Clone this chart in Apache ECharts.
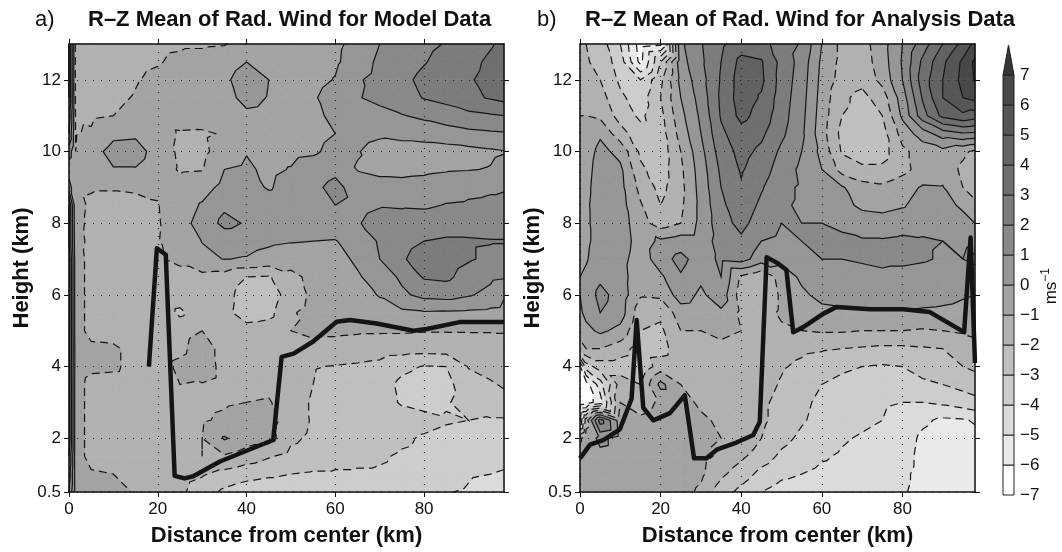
<!DOCTYPE html>
<html>
<head>
<meta charset="utf-8">
<script src="https://cdn.jsdelivr.net/npm/echarts@6/dist/echarts.min.js"></script>
<style>
html, body { margin: 0; padding: 0; background: #fff; }
#chart { width: 1062px; height: 552px; }
</style>
</head>
<body>
<div id="chart"></div>
<script>
// grid of the R-Z section: distance columns, height rows (top row first)
var distKm = [0, 1.5, 5, 10, 15, 20, 25, 30, 35, 40, 45, 50, 55, 60, 65, 70, 75, 80, 85, 90, 95, 98];
var heightKm = [13, 12.5, 12, 11.5, 11, 10.5, 10, 9.5, 9, 8.5, 8, 7.5, 7, 6.5, 6, 5.5, 5, 4.5, 4, 3.5, 3, 2.5, 2, 1.5, 1, 0.5];

// radial wind (m/s), model data
var windModel = [
  [3, -1.2, -1.4, -1.5, -1.2, -1.15, -1.1, -1.1, -1.05, -0.8, -0.5, -0.5, -0.4, -0.2, 0.3, 1.0, 1.5, 1.8, 2.05, 2.4, 2.9, 3.3],
  [3, -1.2, -1.4, -1.4, -1.15, -1.05, -0.85, -0.7, -0.5, 0.0, -0.2, -0.5, -0.4, -0.15, 0.5, 1.2, 1.6, 1.95, 2.3, 2.7, 3.2, 3.5],
  [3, -1.2, -1.4, -1.3, -1.05, -0.85, -0.7, -0.5, -0.2, 0.5, 0.0, -0.5, -0.3, 0.05, 0.9, 1.3, 1.8, 2.2, 2.5, 2.9, 3.3, 3.5],
  [3, -1.2, -1.3, -1.15, -0.95, -0.7, -0.55, -0.45, -0.35, 0.3, -0.05, -0.4, -0.1, 0.4, 0.95, 1.2, 1.6, 2.05, 2.3, 2.75, 3.1, 3.3],
  [2.5, -1.1, -1.15, -1.0, -0.8, -0.6, -0.5, -0.45, -0.4, -0.2, -0.3, -0.4, -0.2, 0.2, 0.5, 0.75, 0.95, 1.2, 1.5, 1.75, 1.9, 2.0],
  [2, -1.05, -0.9, -0.2, -0.15, -0.5, -1.1, -1.15, -0.9, -0.4, -0.45, -0.5, -0.3, 0.0, 0.35, 0.15, 0.3, 0.4, 0.55, 0.75, 0.85, 0.9],
  [0.5, -1.0, -0.35, 0.3, 0.35, -0.35, -1.2, -1.25, -0.5, -0.05, -0.3, -0.25, -0.15, 0.3, 0.05, -0.35, -0.45, -0.45, -0.4, -0.3, -0.15, -0.05],
  [-0.6, -1.0, -0.8, -0.05, -0.05, -0.5, -1.1, -1.05, 0.0, 0.15, -0.2, 0.05, 0.5, 0.8, -0.05, -0.2, -0.25, -0.2, -0.1, -0.05, 0.05, 0.3],
  [0.5, -0.9, -0.95, -0.95, -0.9, -0.85, -0.7, -0.4, 0.3, 0.4, -0.1, 0.4, 0.8, 1.25, 0.6, 0.3, 0.3, 0.4, 0.6, 0.8, 0.9, 0.95],
  [3, -0.8, -1.1, -1.2, -1.2, -1.05, -0.5, 0.1, 0.8, 0.7, 0.5, 0.6, 0.7, 1.0, 0.8, 0.95, 0.9, 0.85, 1.05, 1.1, 1.15, 1.15],
  [3, -0.8, -1.15, -1.3, -1.3, -1.1, -0.3, 0.3, 1.3, 0.9, 0.5, 0.5, 0.55, 0.6, 0.95, 1.25, 1.4, 1.55, 1.65, 1.6, 1.55, 1.5],
  [3, -0.7, -1.2, -1.35, -1.3, -1.05, -0.4, 0.02, 0.3, 0.3, 0.15, 0.05, 0.0, -0.05, 0.45, 1.1, 1.7, 2.0, 2.1, 2.1, 2.05, 2.05],
  [3.5, -0.6, -1.3, -1.35, -1.25, -1.1, -0.8, -0.15, 0.02, -0.05, -0.3, -0.5, -0.45, -0.3, 0.15, 1.0, 1.9, 2.4, 2.45, 2.1, 1.8, 1.7],
  [3.5, -0.6, -1.3, -1.4, -1.3, -1.2, -1.3, -1.3, -1.4, -2.0, -2.1, -1.3, -0.7, -0.4, -0.1, 0.4, 1.2, 2.1, 2.2, 1.6, 1.2, 1.1],
  [3.5, -0.6, -1.3, -1.4, -1.4, -1.3, -1.5, -1.4, -1.6, -2.5, -2.6, -1.5, -0.8, -0.5, -0.3, 0.05, 0.8, 1.3, 1.4, 1.1, 0.7, 0.1],
  [3.5, -0.6, -1.3, -1.4, -1.4, -1.35, -2.2, -1.4, -1.7, -2.5, -2.3, -1.1, -0.7, -0.5, -0.45, -0.3, -0.2, -0.1, -0.15, -0.2, -0.25, -0.3],
  [3.5, -0.6, -1.3, -1.4, -1.4, -1.3, -1.3, -1.0, -1.3, -1.6, -1.5, -1.0, -0.85, -0.85, -0.9, -0.9, -0.9, -0.95, -0.95, -0.95, -0.95, -0.95],
  [3.5, -0.5, -0.8, -0.85, -1.3, -1.4, -1.2, -0.6, -1.3, -1.6, -1.5, -1.1, -1.2, -1.3, -1.4, -1.5, -1.55, -1.6, -1.55, -1.5, -1.4, -1.3],
  [3.5, -0.5, -0.8, -0.85, -1.3, -1.4, -0.8, -0.5, -1.3, -1.5, -1.4, -1.6, -1.95, -2.05, -2.15, -2.3, -2.8, -3.05, -3.0, -1.95, -1.7, -1.5],
  [3.5, -0.6, -1.3, -1.35, -1.4, -1.4, -1.0, -1.05, -1.3, -1.4, -1.3, -1.5, -2.0, -2.3, -2.4, -2.6, -3.2, -3.4, -3.3, -2.4, -2.1, -1.9],
  [3.5, -0.6, -1.3, -1.4, -1.4, -1.4, -1.3, -1.2, -1.1, -1.0, -0.9, -1.6, -2.1, -2.4, -2.5, -2.6, -3.1, -3.3, -3.1, -2.6, -2.4, -2.3],
  [3.5, -0.6, -1.3, -1.4, -1.4, -1.4, -1.4, -1.1, -0.85, -0.6, -0.6, -1.5, -2.1, -2.3, -2.4, -2.5, -2.6, -2.7, -2.9, -3.0, -3.1, -3.1],
  [3.5, -0.6, -1.3, -1.4, -1.4, -1.4, -1.3, -1.0, 0.1, -0.5, -0.6, -1.8, -2.2, -2.4, -2.5, -2.6, -2.85, -3.1, -3.3, -3.4, -3.5, -3.5],
  [3.0, -0.6, -1.3, -1.4, -1.4, -1.4, -1.5, -1.0, -1.1, -1.5, -1.9, -2.3, -2.5, -2.7, -2.8, -2.9, -3.1, -3.2, -3.3, -3.5, -3.6, -3.7],
  [2.5, -0.5, -0.9, -1.0, -1.2, -1.4, -1.6, -1.9, -2.3, -2.6, -2.8, -3.0, -3.1, -3.1, -3.1, -3.1, -3.2, -3.4, -3.6, -3.9, -4.0, -4.1],
  [2, -0.4, -0.5, -0.8, -1.05, -1.3, -1.8, -2.5, -3.2, -3.6, -3.8, -3.8, -3.7, -3.6, -3.5, -3.5, -3.6, -3.8, -3.95, -4.1, -4.4, -4.6]
];

// radial wind (m/s), analysis data
var windAnalysis = [
  [-2.0, -2.0, -2.5, -4.0, -6.5, -6.2, 0.8, 1.9, 2.8, 3.5, 3.4, 2.5, 1.9, 0.0, -1.3, -1.4, -0.4, 1.0, 2.5, 4.0, 5.3, 6.3],
  [-1.8, -1.9, -2.3, -3.5, -6.3, -3.0, 0.6, 1.8, 3.0, 4.3, 4.1, 2.7, 1.6, -0.2, -1.3, -1.5, -0.5, 1.1, 3.2, 4.8, 6.2, 7.2],
  [-1.5, -1.6, -2.0, -3.2, -4.0, -2.2, 0.3, 1.6, 3.1, 4.5, 4.2, 2.6, 1.5, -0.3, -1.4, -1.7, -0.7, 1.0, 3.5, 5.0, 6.3, 7.1],
  [-1.2, -1.3, -1.6, -2.8, -3.5, -2.0, 0.0, 1.4, 3.2, 4.5, 3.9, 2.5, 1.4, -0.4, -1.8, -2.3, -1.5, 0.5, 3.1, 5.0, 6.0, 6.3],
  [-1.0, -1.0, -1.2, -2.4, -3.2, -2.3, -0.3, 1.2, 3.1, 4.3, 3.6, 2.4, 1.3, -0.5, -2.0, -2.3, -2.0, 0.2, 2.6, 4.3, 4.8, 4.5],
  [-0.8, -0.8, -0.15, -1.6, -2.6, -2.5, -0.6, 1.0, 2.8, 3.6, 3.2, 2.2, 1.2, -0.6, -2.3, -2.6, -2.4, -0.6, 0.5, 1.5, 1.9, 1.8],
  [-0.6, -0.5, 0.3, -0.3, -2.2, -2.6, -1.0, 0.7, 2.5, 3.3, 2.8, 1.8, 1.0, -0.3, -2.1, -2.5, -2.4, -1.2, -0.6, -0.3, -0.8, -1.2],
  [-0.5, -0.4, 0.5, 0.2, -1.8, -2.5, -1.2, 0.5, 2.2, 3.1, 2.5, 1.5, 0.8, 0.0, -1.4, -1.8, -1.8, -1.3, -0.6, -0.4, -1.2, -1.6],
  [-0.5, -0.3, 0.6, 0.3, -1.3, -2.3, -1.3, 0.4, 2.0, 2.9, 2.1, 1.2, 0.9, 0.5, 0.1, -0.6, -0.8, -0.4, 0.1, 0.05, -1.0, -1.4],
  [-0.4, -0.2, 0.6, 0.4, -0.9, -2.0, -1.2, 0.3, 1.8, 2.6, 1.8, 1.1, 0.9, 0.7, 0.3, -0.2, -0.3, -0.1, 0.4, 0.4, -0.2, -0.8],
  [-0.4, -0.2, 0.5, 0.5, -0.6, -1.5, -1.0, 0.3, 1.6, 2.3, 1.5, 1.0, 1.0, 1.0, 0.8, 0.5, 0.4, 0.6, 0.7, 0.7, 0.4, 0.0],
  [-0.3, -0.2, 0.4, 0.6, -0.5, 0.2, 0.5, 0.5, 1.4, 1.8, 1.0, 0.8, 1.0, 1.2, 1.2, 1.1, 1.1, 1.2, 1.1, 1.0, 0.9, 0.3],
  [-0.3, -0.1, 0.6, 0.4, -0.6, 0.6, 1.3, 0.5, 1.2, 1.4, 0.5, 0.3, 0.7, 1.0, 1.0, 1.1, 1.2, 1.2, 1.1, 0.9, 1.0, 1.2],
  [0.0, 0.2, 0.8, 0.5, -0.8, -0.2, 0.9, 0.2, 1.0, -1.2, -1.8, -0.6, 0.2, 0.5, 0.6, 0.7, 0.8, 0.7, 0.6, 0.5, 0.4, 0.6],
  [0.0, 0.4, 1.3, 0.6, -0.9, -0.8, 0.5, -0.2, 0.6, -1.5, -2.0, -0.8, -0.2, 0.3, 0.4, 0.4, 0.5, 0.5, 0.4, 0.3, 0.1, 0.0],
  [-0.2, 0.3, 1.0, 0.5, -1.6, -1.8, -0.5, -0.6, -0.2, -1.2, -1.5, -0.8, -0.6, -0.3, -0.2, -0.15, -0.15, -0.15, -0.15, -0.2, -0.3, -0.4],
  [-0.5, -0.3, 0.2, -0.3, -2.0, -2.2, -1.0, -1.0, -0.9, -1.0, -1.2, -1.2, -1.0, -0.9, -0.9, -1.0, -1.0, -1.0, -1.1, -1.0, -0.9, -0.8],
  [-1.5, -1.0, -1.0, -1.5, -2.5, -2.4, -1.4, -1.2, -1.1, -1.2, -1.4, -1.6, -1.8, -1.9, -2.0, -2.1, -2.2, -2.2, -2.1, -2.0, -1.5, -1.3],
  [-6.2, -3.5, -2.5, -2.5, -2.8, -1.5, -1.3, -1.2, -1.1, -1.3, -1.5, -1.9, -2.2, -2.5, -2.8, -3.0, -3.1, -3.0, -2.6, -2.4, -2.0, -1.8],
  [-6.6, -6.5, -4.5, -1.5, -2.0, 0.3, -1.0, -1.2, -1.2, -1.4, -1.6, -2.1, -2.6, -3.0, -3.3, -3.5, -3.6, -3.5, -3.2, -3.0, -2.7, -2.5],
  [-6.6, -6.5, -5.5, -1.0, -1.5, -0.8, -0.8, -1.1, -1.3, -1.5, -1.8, -2.3, -2.8, -3.2, -3.5, -3.7, -3.9, -4.0, -4.0, -3.8, -3.5, -3.3],
  [-5.0, -1.5, 2.5, -0.5, -0.8, -0.5, -0.6, -0.9, -1.1, -1.2, -1.8, -2.4, -2.9, -3.3, -3.6, -3.8, -4.0, -4.3, -4.8, -5.2, -5.1, -4.9],
  [-1.2, -0.5, 0.2, -0.3, -0.5, -0.4, -0.5, -0.8, -1.0, -1.2, -2.0, -2.7, -3.2, -3.6, -3.9, -4.1, -4.3, -4.5, -5.2, -5.5, -5.5, -5.3],
  [-0.3, -0.2, -0.2, -0.3, -0.4, -0.4, -0.4, -0.7, -1.2, -1.8, -2.5, -3.2, -3.6, -3.9, -4.1, -4.3, -4.4, -4.6, -5.3, -5.6, -5.6, -5.5],
  [-0.2, -0.2, -0.2, -0.2, -0.3, -0.3, -0.4, -0.8, -1.8, -2.5, -3.3, -3.8, -4.0, -4.2, -4.3, -4.4, -4.5, -4.8, -5.3, -5.6, -5.7, -5.7],
  [-0.2, -0.2, -0.2, -0.2, -0.3, -0.4, -0.6, -1.2, -2.5, -3.3, -4.0, -4.4, -4.5, -4.6, -4.6, -4.5, -4.6, -4.9, -5.3, -5.6, -5.8, -5.9]
];

// thick black line [distance km, height km]
var thickModel = [[18, 4.0], [19.8, 7.3], [21.8, 7.12], [23.8, 0.95], [26, 0.88], [28, 0.94], [34, 1.35], [46, 1.95], [47.9, 4.27], [50.6, 4.36], [55, 4.7], [60.3, 5.25], [63.3, 5.3], [69.3, 5.2], [77.6, 5.0], [80.6, 5.05], [88, 5.24], [98, 5.24]];
var thickAnalysis = [[0, 1.44], [2.5, 1.82], [5.8, 1.95], [9.9, 2.25], [12.8, 3.1], [14.05, 5.3], [15.7, 2.85], [18.2, 2.5], [22.3, 2.7], [26, 3.2], [28.3, 1.44], [31.4, 1.44], [33.9, 1.68], [38.8, 1.88], [43, 2.09], [44.6, 2.46], [46.3, 7.05], [48.8, 6.9], [51.2, 6.7], [52.9, 4.96], [55.4, 5.1], [60.3, 5.47], [63.6, 5.66], [72, 5.6], [80.2, 5.6], [86.8, 5.52], [95.3, 4.96], [96.9, 7.6], [98, 4.1]];

var levels = [-6, -5, -4, -3, -2, -1, 0, 1, 2, 3, 4, 5, 6, 7];
var bandColors = ['#ffffff', '#eaeaea', '#dbdbdb', '#cdcdcd', '#bfbfbf', '#b1b1b1', '#a3a3a3', '#969696', '#898989', '#7c7c7c', '#6f6f6f', '#626262', '#555555', '#484848', '#363636'];
var barLow = [-7, -6, -5, -4, -3, -2, -1, 0, 1, 2, 3, 4, 5, 6];
var barTicks = [-7, -6, -5, -4, -3, -2, -1, 0, 1, 2, 3, 4, 5, 6, 7];
var distTicks = [0, 20, 40, 60, 80];
var heightTicks = [0.5, 2, 4, 6, 8, 10, 12];

var narrow = "'Liberation Sans Narrow', 'Liberation Sans', Arial, sans-serif";

// --- contouring helpers (linear on triangles) ---
function vtx(vals, r, c) { return [distKm[c], heightKm[r], vals[r][c], r * distKm.length + c]; }

function triangles(vals) {
  var tris = [];
  for (var r = 0; r < heightKm.length - 1; r++) {
    for (var c = 0; c < distKm.length - 1; c++) {
      var a = vtx(vals, r, c), b = vtx(vals, r, c + 1), d = vtx(vals, r + 1, c + 1), e = vtx(vals, r + 1, c);
      tris.push([a, b, d], [a, d, e]);
    }
  }
  return tris;
}

function clip(poly, t, keepAbove) {
  var out = [];
  for (var i = 0; i < poly.length; i++) {
    var p = poly[i], q = poly[(i + 1) % poly.length];
    var pin = keepAbove ? p[2] >= t : p[2] < t;
    var qin = keepAbove ? q[2] >= t : q[2] < t;
    if (pin) out.push(p);
    if (pin !== qin) {
      var f = (t - p[2]) / (q[2] - p[2]);
      out.push([p[0] + f * (q[0] - p[0]), p[1] + f * (q[1] - p[1]), t]);
    }
  }
  return out;
}

function filledBands(tris) {
  var out = [];
  tris.forEach(function (t) {
    var vmin = Math.min(t[0][2], t[1][2], t[2][2]);
    var vmax = Math.max(t[0][2], t[1][2], t[2][2]);
    for (var k = 0; k <= levels.length; k++) {
      var lo = k === 0 ? -Infinity : levels[k - 1];
      var hi = k === levels.length ? Infinity : levels[k];
      if (vmax < lo || vmin >= hi) continue;
      var poly = t;
      if (lo > -Infinity) poly = clip(poly, lo, true);
      if (poly.length && hi < Infinity) poly = clip(poly, hi, false);
      if (poly.length >= 3) out.push({ band: k, pts: poly });
    }
  });
  return out;
}

function chain(segs) {
  var byKey = {}, used = [], lines = [];
  segs.forEach(function (s, i) {
    [0, 1].forEach(function (e) { (byKey[s[e].k] = byKey[s[e].k] || []).push(i); });
  });
  function grow(pts, key, atEnd) {
    for (;;) {
      var next = (byKey[key] || []).filter(function (j) { return !used[j]; })[0];
      if (next === undefined) return;
      used[next] = true;
      var s = segs[next], o = s[0].k === key ? s[1] : s[0];
      if (atEnd) pts.push(o.pt); else pts.unshift(o.pt);
      key = o.k;
    }
  }
  segs.forEach(function (s, i) {
    if (used[i]) return;
    used[i] = true;
    var pts = [s[0].pt, s[1].pt];
    grow(pts, s[1].k, true);
    grow(pts, s[0].k, false);
    lines.push(pts);
  });
  return lines;
}

function contourLines(tris) {
  var out = [];
  levels.forEach(function (lv) {
    var segs = [];
    tris.forEach(function (t) {
      var cross = [];
      for (var i = 0; i < 3; i++) {
        var p = t[i], q = t[(i + 1) % 3];
        if ((p[2] >= lv) !== (q[2] >= lv)) {
          if (p[3] > q[3]) { var s = p; p = q; q = s; }
          var f = (lv - p[2]) / (q[2] - p[2]);
          cross.push({ k: p[3] + '_' + q[3], pt: [p[0] + f * (q[0] - p[0]), p[1] + f * (q[1] - p[1])] });
        }
      }
      if (cross.length === 2) segs.push(cross);
    });
    chain(segs).forEach(function (pts) { out.push({ level: lv, pts: pts }); });
  });
  return out;
}

function bandSeries(polys, gi) {
  return {
    type: 'custom', xAxisIndex: gi * 2, yAxisIndex: gi * 2, silent: true, z: 1,
    data: polys.map(function (p, i) { return [p.pts[0][0], p.pts[0][1], i]; }),
    encode: { x: 0, y: 1 },
    renderItem: function (params, api) {
      var p = polys[api.value(2)], col = bandColors[p.band];
      return {
        type: 'polygon',
        shape: { points: p.pts.map(function (q) { return api.coord([q[0], q[1]]); }) },
        style: { fill: col, stroke: col, lineWidth: 0.8 }
      };
    }
  };
}

function lineSeries(lines, gi) {
  return {
    type: 'custom', xAxisIndex: gi * 2, yAxisIndex: gi * 2, silent: true, z: 2,
    data: lines.map(function (l, i) { return [l.pts[0][0], l.pts[0][1], i]; }),
    encode: { x: 0, y: 1 },
    renderItem: function (params, api) {
      var l = lines[api.value(2)];
      return {
        type: 'polyline',
        shape: { points: l.pts.map(function (q) { return api.coord(q); }) },
        style: { fill: 'none', stroke: '#161616', lineWidth: 1.2, lineDash: l.level < 0 ? [8, 5] : null }
      };
    }
  };
}

function thickSeries(pts, gi) {
  return {
    type: 'line', xAxisIndex: gi * 2, yAxisIndex: gi * 2, data: pts, showSymbol: false, silent: true, z: 4,
    lineStyle: { color: '#141414', width: 4.5, join: 'round' }
  };
}

var labelFont = { color: '#111', fontSize: 17, fontFamily: narrow };
var nameFont = { color: '#111', fontSize: 22, fontWeight: 'bold', fontFamily: narrow };
var frame = { show: true, onZero: false, lineStyle: { color: '#111', width: 1.5 } };

function xAxes(gi) {
  return [{
    type: 'value', gridIndex: gi, min: 0, max: 98, position: 'bottom', z: 10,
    axisLine: frame,
    axisTick: { show: true, length: 5, customValues: distTicks, lineStyle: { color: '#111' } },
    axisLabel: Object.assign({ customValues: distTicks, margin: 9 }, labelFont),
    splitLine: { show: true, lineStyle: { color: '#222', type: [1, 7], width: 1.2 } },
    name: 'Distance from center (km)', nameLocation: 'middle', nameGap: 33, nameTextStyle: nameFont
  }, {
    type: 'value', gridIndex: gi, min: 0, max: 98, position: 'top', z: 10,
    axisLine: frame,
    axisTick: { show: true, length: 5, customValues: distTicks, lineStyle: { color: '#111' } },
    axisLabel: { show: false }, splitLine: { show: false }
  }];
}

function yAxes(gi) {
  return [{
    type: 'value', gridIndex: gi, min: 0.5, max: 13, position: 'left', z: 10,
    axisLine: frame,
    axisTick: { show: true, length: 5, customValues: heightTicks, lineStyle: { color: '#111' } },
    axisLabel: Object.assign({ customValues: heightTicks, margin: 8 }, labelFont),
    splitLine: { show: true, lineStyle: { color: '#222', type: [1, 7], width: 1.2 } },
    name: 'Height (km)', nameLocation: 'middle', nameGap: 36, nameTextStyle: nameFont
  }, {
    type: 'value', gridIndex: gi, min: 0.5, max: 13, position: 'right', z: 10,
    axisLine: frame,
    axisTick: { show: true, length: 5, customValues: heightTicks, lineStyle: { color: '#111' } },
    axisLabel: { show: false }, splitLine: { show: false }
  }];
}

var trisModel = triangles(windModel), trisAnalysis = triangles(windAnalysis);

var chart = echarts.init(document.getElementById('chart'), null, { renderer: 'canvas' });
chart.setOption({
  animation: false,
  backgroundColor: '#fff',
  title: [
    { text: 'a)', left: 35, top: 9, padding: 0, textStyle: { fontSize: 22, fontWeight: 'normal', fontFamily: narrow, color: '#111' } },
    { text: 'R\u2013Z Mean of Rad. Wind for Model Data', left: 88, top: 9, padding: 0, textStyle: { fontSize: 22, fontWeight: 'bold', fontFamily: narrow, color: '#111' } },
    { text: 'b)', left: 537, top: 9, padding: 0, textStyle: { fontSize: 22, fontWeight: 'normal', fontFamily: narrow, color: '#111' } },
    { text: 'R\u2013Z Mean of Rad. Wind for Analysis Data', left: 585, top: 9, padding: 0, textStyle: { fontSize: 22, fontWeight: 'bold', fontFamily: narrow, color: '#111' } }
  ],
  grid: [
    { left: 69, top: 44, width: 435, height: 450 },
    { left: 580, top: 44, width: 395, height: 450 },
    { left: 1003, top: 45, width: 11, height: 450 }
  ],
  xAxis: xAxes(0).concat(xAxes(1)).concat([{ type: 'value', gridIndex: 2, min: 0, max: 1, show: false }]),
  yAxis: yAxes(0).concat(yAxes(1)).concat([{
    type: 'value', gridIndex: 2, min: -7, max: 8, interval: 1, position: 'right',
    axisLine: { show: false }, axisTick: { show: false }, splitLine: { show: false },
    axisLabel: Object.assign({
      customValues: barTicks, margin: 6,
      formatter: function (v) { return v < 0 ? '\u2212' + Math.abs(v) : String(v); }
    }, labelFont)
  }]),
  graphic: [{
    type: 'text', left: 1040, top: 268, rotation: Math.PI / 2,
    style: {
      text: '{m|ms}{s|\u22121}', fill: '#111',
      rich: { m: { fontSize: 17, fontFamily: narrow, lineHeight: 22 }, s: { fontSize: 12, fontFamily: narrow, lineHeight: 22, verticalAlign: 'top', padding: [0, 0, 8, 0] } }
    }
  }],
  series: [
    bandSeries(filledBands(trisModel), 0),
    lineSeries(contourLines(trisModel), 0),
    thickSeries(thickModel, 0),
    bandSeries(filledBands(trisAnalysis), 1),
    lineSeries(contourLines(trisAnalysis), 1),
    thickSeries(thickAnalysis, 1),
    {
      type: 'custom', xAxisIndex: 4, yAxisIndex: 4, silent: true,
      data: barLow.map(function (lo, i) { return [0.5, lo + 0.5, i]; }).concat([[0.5, 7.5, 14]]),
      encode: { x: 0, y: 1 },
      renderItem: function (params, api) {
        var i = api.value(2);
        if (i === 14) {
          return { type: 'polygon', shape: { points: [api.coord([0, 7]), api.coord([1, 7]), api.coord([0.5, 8])] },
                   style: { fill: bandColors[14], stroke: '#222', lineWidth: 1 } };
        }
        var p0 = api.coord([0, barLow[i] + 1]), p1 = api.coord([1, barLow[i]]);
        return { type: 'rect', shape: { x: p0[0], y: p0[1], width: p1[0] - p0[0], height: p1[1] - p0[1] },
                 style: { fill: bandColors[i], stroke: '#222', lineWidth: 1 } };
      }
    }
  ]
});
</script>
</body>
</html>
